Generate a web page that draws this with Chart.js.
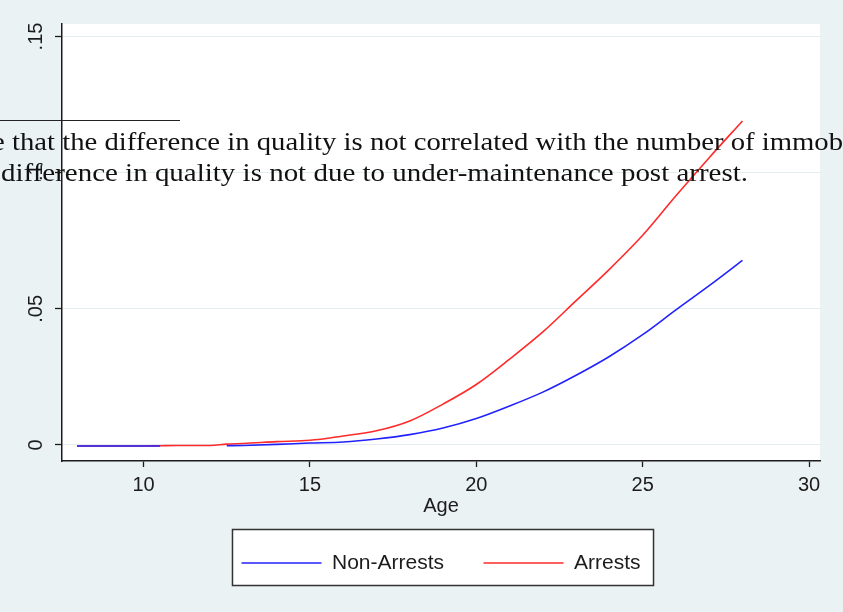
<!DOCTYPE html>
<html>
<head>
<meta charset="utf-8">
<script src="https://cdn.jsdelivr.net/npm/chart.js@4.4.1/dist/chart.umd.min.js"></script>
<style>
  html, body { margin: 0; padding: 0; background: #EAF2F3; overflow: hidden; }
  #wrap { position: relative; width: 843px; height: 612px; }
</style>
</head>
<body>
<div id="wrap"><canvas id="c"></canvas></div>
<script>
// Predicted share by age, two groups
const ages       = [8, 9, 10, 10.5, 11, 12, 12.5, 13, 14, 15, 16, 17, 18, 19, 20, 21, 22, 23, 24, 25, 26, 27, 28];
const nonArrests = [-0.0004, -0.0004, -0.0004, -0.0004, null, null, -0.0003, -0.0002, 0.0002, 0.0007, 0.0011, 0.0022, 0.0038, 0.0062, 0.0097, 0.0143, 0.0194, 0.0256, 0.0325, 0.0405, 0.0496, 0.0585, 0.0678];
const arrests    = [-0.0004, -0.0004, -0.0004, -0.0003, -0.0002, -0.0002, 0.0003, 0.0005, 0.0012, 0.0017, 0.0033, 0.0052, 0.0088, 0.0150, 0.0222, 0.0315, 0.0415, 0.0530, 0.0645, 0.0770, 0.0915, 0.1055, 0.1190];
const seriesNames = ['Non-Arrests', 'Arrests'];

const xTicks = [10, 15, 20, 25, 30];
const yTicks = [0, 0.05, 0.1, 0.15];
const yTickLabels = ['0', '.05', '.1', '.15'];
const xTitle = 'Age';

// Footnote lines printed across the figure
const noteLines = [
  'e that the difference in quality is not correlated with the number of immob',
  'difference in quality is not due to under-maintenance post arrest.'
];

const BG = '#EAF2F3';
const INK = '#1c1c1c';
const AXIS_FONT = { family: '"Liberation Sans", Arial, sans-serif', size: 20 };

function points(values) {
  return ages.map((a, i) => ({ x: a, y: values[i] }));
}

const backdrop = {
  id: 'backdrop',
  beforeDraw(chart) {
    const { ctx, chartArea: a } = chart;
    ctx.save();
    ctx.fillStyle = BG;
    ctx.fillRect(0, 0, chart.width, chart.height);
    ctx.fillStyle = '#ffffff';
    ctx.fillRect(a.left, a.top, a.right - a.left, a.bottom - a.top);
    // framed legend box
    const lg = chart.legend;
    if (lg && lg.legendHitBoxes && lg.legendHitBoxes.length) {
      const hb = lg.legendHitBoxes;
      const first = hb[0], last = hb[hb.length - 1];
      const cy = first.top + first.height / 2;
      const x0 = first.left - 9, x1 = last.left + last.width + 13;
      const y0 = cy - 33.5, y1 = cy + 22.5;
      ctx.fillStyle = '#ffffff';
      ctx.fillRect(x0, y0, x1 - x0, y1 - y0);
      ctx.strokeStyle = '#333333';
      ctx.lineWidth = 1.5;
      ctx.strokeRect(x0, y0, x1 - x0, y1 - y0);
    }
    ctx.restore();
  }
};

const footnote = {
  id: 'footnote',
  afterDraw(chart) {
    const ctx = chart.ctx;
    ctx.save();
    ctx.strokeStyle = '#222';
    ctx.lineWidth = 1;
    ctx.beginPath();
    ctx.moveTo(0, 120.5);
    ctx.lineTo(180, 120.5);
    ctx.stroke();

    ctx.fillStyle = '#111';
    ctx.font = '26px "Liberation Serif", "DejaVu Serif", serif';
    ctx.textBaseline = 'alphabetic';

    // first line: leading fragment runs off the left edge
    const l1 = noteLines[0];
    const lead = ctx.measureText('e ').width;
    const rest = ctx.measureText(l1.slice(2)).width;
    const sx1 = 831 / rest;
    ctx.save();
    ctx.translate(12 - lead * sx1, 149.5);
    ctx.scale(sx1, 1);
    ctx.fillText(l1, 0, 0);
    ctx.restore();

    const l2 = noteLines[1];
    const sx2 = 747 / ctx.measureText(l2).width;
    ctx.save();
    ctx.translate(1, 181);
    ctx.scale(sx2, 1);
    ctx.fillText(l2, 0, 0);
    ctx.restore();
    ctx.restore();
  }
};

new Chart(document.getElementById('c'), {
  type: 'line',
  data: {
    datasets: [
      {
        label: seriesNames[0],
        data: points(nonArrests),
        borderColor: '#2222ff',
        backgroundColor: '#2222ff',
        borderWidth: 1.6,
        pointRadius: 0,
        cubicInterpolationMode: 'monotone',
        spanGaps: false
      },
      {
        label: seriesNames[1],
        data: points(arrests),
        borderColor: '#ff2a2a',
        backgroundColor: '#ff2a2a',
        borderWidth: 1.6,
        pointRadius: 0,
        cubicInterpolationMode: 'monotone',
        spanGaps: false
      }
    ]
  },
  options: {
    responsive: true,
    maintainAspectRatio: false,
    animation: false,
    events: [],
    layout: { padding: { top: 24, right: 23, left: 0, bottom: 28.5 } },
    scales: {
      x: {
        type: 'linear',
        min: 7.55,
        max: 30.33,
        afterBuildTicks: s => { s.ticks = xTicks.map(v => ({ value: v })); },
        afterFit: s => { s.height = 52; },
        ticks: {
          autoSkip: false,
          maxRotation: 0,
          padding: 6,
          color: INK,
          font: AXIS_FONT,
          callback: v => String(v)
        },
        grid: {
          drawOnChartArea: false,
          drawTicks: true,
          tickLength: 6,
          tickColor: INK,
          tickWidth: 1.3
        },
        border: { color: INK, width: 1.5 },
        title: {
          display: true,
          text: xTitle,
          color: INK,
          font: AXIS_FONT,
          padding: { top: 0, bottom: -5 }
        }
      },
      y: {
        type: 'linear',
        min: -0.0059,
        max: 0.1546,
        afterBuildTicks: s => { s.ticks = yTicks.map(v => ({ value: v })); },
        afterFit: s => { s.width = 62; },
        ticks: {
          autoSkip: false,
          minRotation: 90,
          maxRotation: 90,
          crossAlign: 'center',
          padding: 5,
          color: INK,
          font: AXIS_FONT,
          callback: v => {
            const i = yTicks.findIndex(t => Math.abs(t - v) < 1e-9);
            return i >= 0 ? yTickLabels[i] : '';
          }
        },
        grid: {
          color: '#E4EDEF',
          lineWidth: 1,
          drawTicks: true,
          tickLength: 7,
          tickColor: INK,
          tickWidth: 1.3
        },
        border: { color: INK, width: 1.5 }
      }
    },
    plugins: {
      tooltip: { enabled: false },
      legend: {
        position: 'bottom',
        fullSize: false,
        labels: {
          usePointStyle: true,
          pointStyle: 'line',
          pointStyleWidth: 80,
          padding: 39.5,
          color: INK,
          font: { family: '"Liberation Sans", Arial, sans-serif', size: 21 }
        }
      }
    }
  },
  plugins: [backdrop, footnote]
});
</script>
</body>
</html>
